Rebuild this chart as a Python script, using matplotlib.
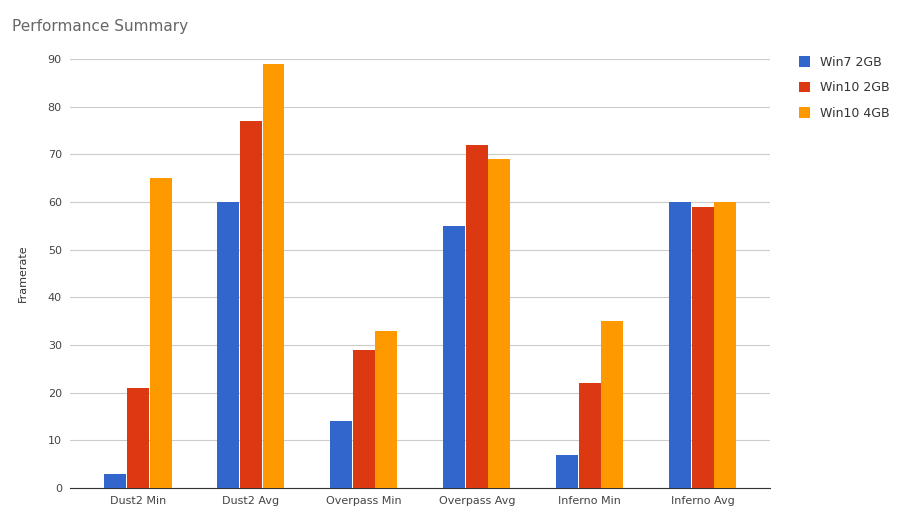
import matplotlib
matplotlib.use("Agg")
import matplotlib.pyplot as plt
import numpy as np

categories = ["Dust2 Min", "Dust2 Avg", "Overpass Min", "Overpass Avg", "Inferno Min", "Inferno Avg"]
win7_2gb = [3, 60, 14, 55, 7, 60]
win10_2gb = [21, 77, 29, 72, 22, 59]
win10_4gb = [65, 89, 33, 69, 35, 60]
series_names = ["Win7 2GB", "Win10 2GB", "Win10 4GB"]
colors = ["#3366cc", "#dc3912", "#ff9900"]

fig = plt.figure(figsize=(9, 5.23), dpi=100)
ax = fig.add_axes([0.078, 0.067, 0.778, 0.82])
x = np.arange(len(categories))
w = 0.2
for i, (vals, name, c) in enumerate(zip([win7_2gb, win10_2gb, win10_4gb], series_names, colors)):
    ax.bar(x + (i - 1) * w, vals, w * 0.97, color=c, label=name, zorder=3)

ax.set_xlim(-0.6, len(categories) - 0.4)
ax.set_ylim(0, 90)
ax.set_yticks(range(0, 91, 10))
ax.grid(axis="y", color="#cccccc", linewidth=0.8, zorder=0)
for s in ["top", "right", "left"]:
    ax.spines[s].set_visible(False)
ax.spines["bottom"].set_color("#333333")
ax.tick_params(axis="both", length=0, labelsize=8, colors="#444444", pad=6)
ax.set_xticks(x)
ax.set_xticklabels(categories)
ax.set_ylabel("Framerate", fontsize=8, color="#333333", labelpad=14)
fig.text(0.013, 0.94, "Performance Summary", fontsize=11, color="#666666")
leg = fig.legend(loc="upper left", bbox_to_anchor=(0.875, 0.915), frameon=False,
                 fontsize=9, handlelength=0.9, handleheight=0.9, labelspacing=1.0)
for t in leg.get_texts():
    t.set_color("#333333")
fig.savefig("out.png", dpi=100, facecolor="white")
